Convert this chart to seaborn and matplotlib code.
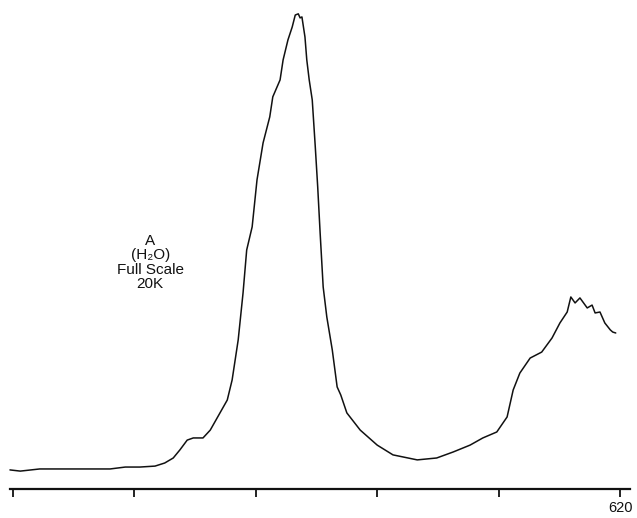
"""Emission spectrum trace, sample A in water (full scale 20K)."""
import matplotlib
matplotlib.use("Agg")
import matplotlib.pyplot as plt
import numpy as np
import pandas as pd
import seaborn as sns

# wavelength (nm) and intensity (thousands of counts)
wavelength = [
    519.5, 521.2, 524.4, 531.0, 536.0, 538.5, 540.9, 543.4, 545.0, 546.4,
    547.5, 548.7, 549.7, 551.3, 552.5, 554.1, 555.3, 556.1, 557.1, 557.9,
    558.5, 559.4, 560.2, 561.2, 562.3, 562.8, 564.0, 564.5, 565.3, 566.0,
    566.5, 567.0, 567.3, 567.6, 568.1, 568.4, 568.8, 569.3, 569.8, 570.2,
    570.6, 571.1, 571.7, 572.6, 573.4, 574.0, 575.0, 577.2, 580.0, 582.6,
    586.6, 589.8, 592.5, 595.3, 597.4, 599.7, 601.4, 602.4, 603.5, 605.2,
    607.1, 608.8, 610.1, 611.3, 611.9, 612.6, 613.4, 614.6, 615.4, 615.9,
    616.7, 617.5, 618.4, 618.8, 619.3,
]
intensity = [
    0.80, 0.75, 0.84, 0.84, 0.84, 0.92, 0.92, 0.96, 1.09, 1.30,
    1.64, 2.05, 2.14, 2.14, 2.47, 3.19, 3.73, 4.57, 6.25, 8.22,
    10.02, 10.99, 12.96, 14.51, 15.60, 16.44, 17.15, 17.99, 18.83, 19.37,
    19.87, 19.92, 19.75, 19.79, 18.95, 17.99, 17.15, 16.31, 14.34, 12.66,
    10.73, 8.47, 7.21, 5.83, 4.28, 3.94, 3.19, 2.47, 1.84, 1.43,
    1.22, 1.30, 1.55, 1.84, 2.14, 2.39, 3.02, 4.15, 4.86, 5.49,
    5.74, 6.33, 6.96, 7.42, 8.05, 7.80, 8.01, 7.59, 7.71, 7.38,
    7.42, 6.96, 6.67, 6.58, 6.54,
]
tick_positions = [520, 540, 560, 580, 600, 620]
tick_labels = ["", "", "", "", "", "620"]
annotation = "A\n(H\u2082O)\nFull Scale\n20K"

sns.set_style("white")
plt.rcParams["font.family"] = ["Liberation Sans", "DejaVu Sans"]

df = pd.DataFrame({"wavelength": wavelength, "intensity": intensity})

fig = plt.figure(figsize=(6.37, 5.18), dpi=100)
ax = fig.add_axes([0, 0, 1, 1])
sns.lineplot(data=df, x="wavelength", y="intensity", sort=False,
             color="#111111", linewidth=1.1, ax=ax)

ax.set_xlim(517.86, 622.8)
ax.set_ylim(-1.216, 20.50)

# only a bottom baseline axis, as in the chart recorder trace
for side in ("top", "right", "left"):
    ax.spines[side].set_visible(False)
ax.spines["bottom"].set_position(("data", 0))
ax.spines["bottom"].set_bounds(519.5, 621.6)
ax.spines["bottom"].set_linewidth(1.6)
ax.spines["bottom"].set_color("#111111")
ax.set_xticks(tick_positions)
ax.set_xticklabels(tick_labels)
ax.tick_params(axis="x", bottom=True, direction="out", length=6, width=1.3,
               colors="#111111", labelsize=10.5, pad=3)
ax.tick_params(axis="y", left=False)
ax.set_yticks([])
ax.set_xlabel("")
ax.set_ylabel("")

ax.text(542.6, 9.5, annotation, ha="center", va="center",
        fontsize=11, linespacing=1.05, color="#111111")

fig.savefig("out.png", dpi=100)
plt.close(fig)
